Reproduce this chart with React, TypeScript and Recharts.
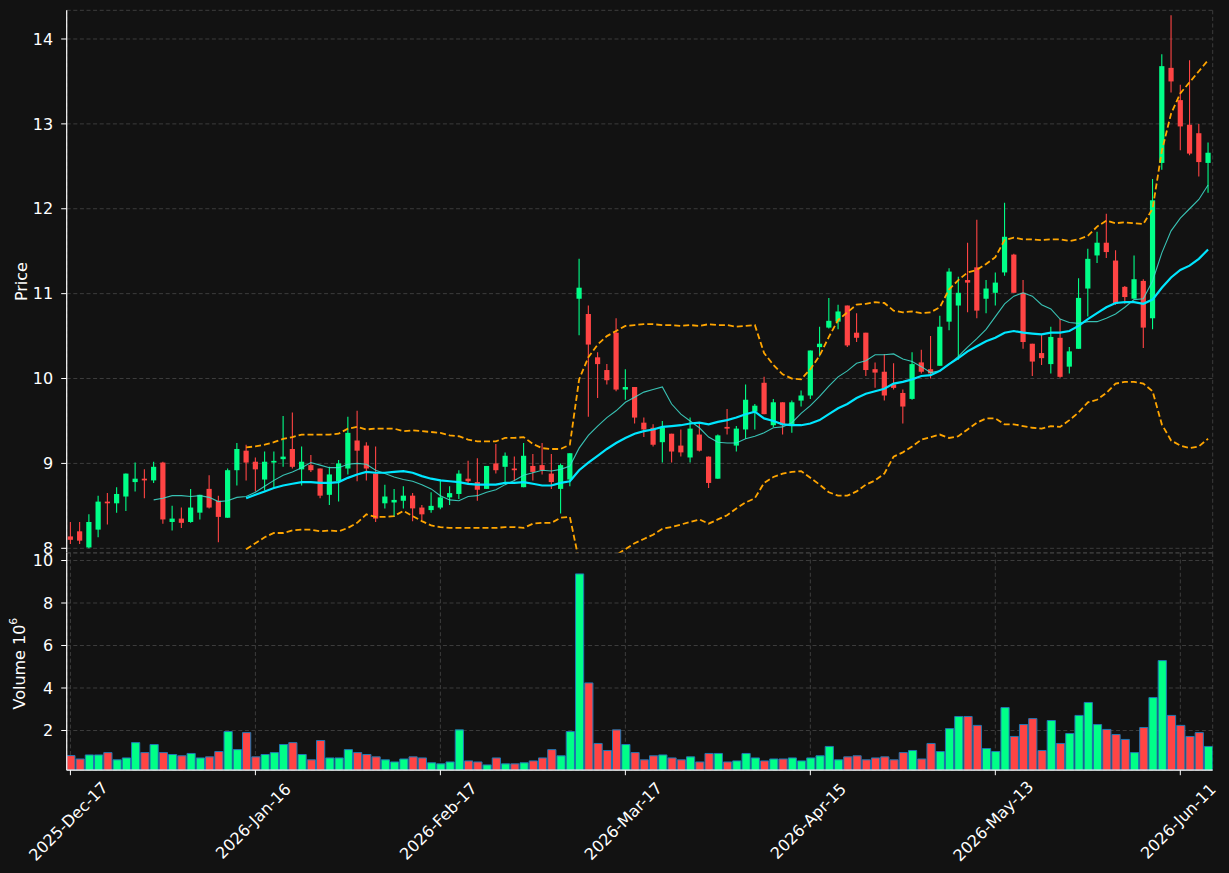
import React from "react";
import {
  ComposedChart,
  Bar,
  Line,
  XAxis,
  YAxis,
  CartesianGrid,
  Cell,
} from "recharts";

// x ticks (trading-day index) and their labels
const tickIndex = [0, 20, 40, 60, 80, 100, 120];
const tickLabels = [
  "2025-Dec-17",
  "2026-Jan-16",
  "2026-Feb-17",
  "2026-Mar-17",
  "2026-Apr-15",
  "2026-May-13",
  "2026-Jun-11",
];
const priceTicks = [8, 9, 10, 11, 12, 13, 14];
const volumeTicks = [2, 4, 6, 8, 10];

const opens = [
  8.14, 8.2, 8.01, 8.22, 8.55, 8.53, 8.61, 8.78, 8.82, 8.8,
  9.01, 8.31, 8.35, 8.31, 8.42, 8.7, 8.56, 8.36, 8.92, 9.15,
  9.02, 8.81, 9.01, 9.05, 9.17, 8.93, 8.98, 8.94, 8.63, 8.79,
  8.94, 9.27, 9.21, 8.88, 8.53, 8.54, 8.56, 8.62, 8.48, 8.45,
  8.48, 8.6, 8.64, 8.82, 8.78, 8.7, 9.0, 8.96, 8.94, 8.72,
  8.97, 8.98, 8.88, 8.7, 8.81, 10.94, 10.76, 10.25, 10.1, 10.54,
  9.87, 9.9, 9.48, 9.42, 9.25, 9.35, 9.21, 9.07, 9.34, 9.08,
  8.82, 9.43, 9.21, 9.4, 9.61, 9.95, 9.45, 9.72, 9.44, 9.74,
  9.8, 10.37, 10.6, 10.67, 10.86, 10.54, 10.54, 10.11, 10.08, 9.93,
  9.83, 9.76, 10.19, 10.11, 10.15, 10.67, 10.86, 11.16, 11.31, 10.94,
  11.01, 11.25, 11.46, 11.01, 10.41, 10.3, 10.17, 10.48, 10.14, 10.35,
  11.06, 11.45, 11.6, 11.39, 11.08, 10.94, 11.15, 10.71, 12.54, 13.66,
  13.28, 12.99, 12.89, 12.54,
];
const highs = [
  8.31, 8.31, 8.4, 8.62, 8.65, 8.72, 8.88, 9.01, 8.93, 9.02,
  9.02, 8.5, 8.48, 8.7, 8.63, 8.86, 8.62, 8.94, 9.24, 9.22,
  9.07, 9.14, 9.14, 9.56, 9.6, 9.2, 9.1, 8.94, 8.96, 9.04,
  9.55, 9.62, 9.25, 9.2, 8.75, 8.7, 8.73, 8.65, 8.51, 8.66,
  8.81, 8.73, 8.92, 9.03, 9.06, 8.97, 9.23, 9.13, 9.08, 9.24,
  9.11, 9.24, 9.11, 9.0, 9.12, 11.41, 10.86, 10.31, 10.17, 10.71,
  10.11, 9.9, 9.54, 9.46, 9.5, 9.35, 9.4, 9.54, 9.47, 9.08,
  9.34, 9.64, 9.44, 9.93, 9.7, 10.02, 9.76, 9.72, 9.74, 9.86,
  10.33, 10.61, 10.95, 10.87, 10.86, 10.77, 10.54, 10.19, 10.29, 10.18,
  9.87, 10.31, 10.34, 10.5, 10.74, 11.3, 11.2, 11.6, 11.87, 11.16,
  11.25, 12.07, 11.47, 11.16, 10.41, 10.52, 10.61, 10.7, 10.37, 11.18,
  11.53, 11.73, 11.94, 11.51, 11.09, 11.45, 11.17, 12.35, 13.82, 14.28,
  13.46, 13.75, 13.0, 12.78,
];
const lows = [
  8.05, 8.05, 8.0, 8.13, 8.28, 8.42, 8.44, 8.67, 8.59, 8.77,
  8.29, 8.21, 8.24, 8.3, 8.34, 8.47, 8.07, 8.36, 8.74, 8.8,
  8.67, 8.68, 8.72, 8.96, 8.94, 8.74, 8.9, 8.59, 8.51, 8.55,
  8.87, 8.79, 8.8, 8.31, 8.47, 8.37, 8.47, 8.32, 8.33, 8.42,
  8.46, 8.51, 8.58, 8.75, 8.56, 8.7, 8.88, 8.78, 8.79, 8.72,
  8.8, 8.87, 8.7, 8.41, 8.73, 10.51, 9.55, 9.77, 9.93, 9.85,
  9.75, 9.47, 9.31, 9.2, 9.01, 9.01, 9.08, 9.01, 9.14, 8.71,
  8.82, 9.34, 9.14, 9.29, 9.4, 9.58, 9.43, 9.34, 9.36, 9.67,
  9.76, 10.26, 10.59, 10.58, 10.37, 10.43, 10.03, 9.89, 9.74, 9.87,
  9.47, 9.75, 10.06, 10.0, 10.15, 10.57, 10.22, 10.78, 10.71, 10.77,
  10.86, 11.21, 11.01, 10.35, 10.03, 10.16, 10.06, 10.01, 10.06, 10.35,
  10.73, 11.36, 11.42, 10.87, 10.88, 10.94, 10.36, 10.58, 12.46, 13.37,
  12.69, 12.63, 12.38, 12.19,
];
const closes = [
  8.1, 8.09, 8.31, 8.55, 8.53, 8.64, 8.88, 8.82, 8.8, 8.96,
  8.34, 8.35, 8.3, 8.48, 8.63, 8.48, 8.37, 8.92, 9.17, 9.01,
  8.93, 9.02, 9.03, 9.08, 8.96, 9.02, 8.92, 8.62, 8.87, 9.0,
  9.36, 9.15, 8.94, 8.35, 8.61, 8.57, 8.62, 8.47, 8.4, 8.5,
  8.6, 8.65, 8.88, 8.79, 8.69, 8.97, 8.92, 9.09, 8.92, 9.09,
  8.9, 8.92, 8.78, 8.98, 9.12, 11.07, 10.4, 10.17, 9.98, 9.87,
  9.9, 9.54, 9.4, 9.22, 9.42, 9.14, 9.13, 9.41, 9.15, 8.77,
  9.33, 9.41, 9.41, 9.75, 9.68, 9.58, 9.72, 9.45, 9.72, 9.8,
  10.33, 10.41, 10.68, 10.79, 10.39, 10.48, 10.1, 10.07, 9.8, 9.89,
  9.67, 10.17, 10.08, 10.06, 10.61, 11.26, 11.01, 11.13, 10.8, 11.06,
  11.13, 11.67, 11.01, 10.43, 10.2, 10.24, 10.49, 10.02, 10.32, 10.95,
  11.41, 11.6, 11.49, 10.88, 10.96, 11.17, 10.6, 12.1, 13.68, 13.5,
  12.97, 12.65, 12.55, 12.66,
];
// volume, millions
const volumes = [
  0.82, 0.66, 0.85, 0.85, 0.96, 0.62, 0.71, 1.43, 0.96, 1.34,
  0.96, 0.87, 0.81, 0.92, 0.71, 0.76, 1.01, 1.95, 1.1, 1.9,
  0.76, 0.87, 0.96, 1.34, 1.43, 0.87, 0.62, 1.53, 0.71, 0.71,
  1.1, 0.96, 0.87, 0.76, 0.62, 0.52, 0.66, 0.76, 0.71, 0.48,
  0.43, 0.52, 2.03, 0.57, 0.52, 0.38, 0.71, 0.43, 0.43, 0.48,
  0.57, 0.71, 1.1, 0.81, 1.95, 9.37, 4.24, 1.39, 1.06, 2.03,
  1.34, 0.96, 0.62, 0.81, 0.85, 0.71, 0.62, 0.76, 0.52, 0.92,
  0.92, 0.52, 0.57, 0.92, 0.71, 0.57, 0.66, 0.66, 0.71, 0.57,
  0.71, 0.81, 1.25, 0.62, 0.76, 0.81, 0.62, 0.71, 0.76, 0.62,
  0.96, 1.06, 0.66, 1.39, 1.01, 2.09, 2.66, 2.66, 2.24, 1.15,
  1.01, 3.08, 1.72, 2.28, 2.56, 1.06, 2.47, 1.39, 1.86, 2.71,
  3.32, 2.28, 2.05, 1.81, 1.58, 0.96, 2.14, 3.55, 5.29, 2.71,
  2.24, 1.72, 1.9, 1.25,
];

// overlay lines as they appear on the chart; ma10 starts at day 9, the rest at day 19
const ma10 = [
  8.57, 8.59, 8.62, 8.62, 8.61, 8.62, 8.6, 8.55, 8.56, 8.6,
  8.61, 8.66, 8.73, 8.8, 8.86, 8.9, 8.95, 9.01, 8.98, 8.95,
  8.95, 8.99, 9.0, 8.99, 8.92, 8.88, 8.84, 8.81, 8.79, 8.75,
  8.7, 8.62, 8.57, 8.56, 8.61, 8.62, 8.66, 8.69, 8.75, 8.8,
  8.86, 8.89, 8.92, 8.91, 8.93, 8.97, 9.18, 9.33, 9.44, 9.54,
  9.62, 9.72, 9.78, 9.84, 9.87, 9.9, 9.7, 9.58, 9.5, 9.42,
  9.31, 9.25, 9.24, 9.24, 9.29, 9.32, 9.36, 9.42, 9.43, 9.48,
  9.59, 9.68, 9.79, 9.91, 10.02, 10.09, 10.18, 10.21, 10.28, 10.28,
  10.29, 10.23, 10.2, 10.14, 10.07, 10.09, 10.17, 10.26, 10.37, 10.47,
  10.58, 10.73, 10.88, 10.97, 11.01, 10.97, 10.87, 10.82, 10.7, 10.66,
  10.65, 10.67, 10.67, 10.71, 10.76, 10.84, 10.93, 10.94, 11.15, 11.48,
  11.74, 11.89, 12.0, 12.11, 12.28,
];
const ma20 = [
  8.59, 8.63, 8.67, 8.71, 8.74, 8.76, 8.78, 8.78, 8.77, 8.77,
  8.78, 8.83, 8.87, 8.9, 8.89, 8.89, 8.9, 8.91, 8.89, 8.85,
  8.82, 8.8, 8.79, 8.78, 8.76, 8.75, 8.75, 8.75, 8.77, 8.77,
  8.78, 8.76, 8.74, 8.74, 8.77, 8.79, 8.92, 9.01, 9.09, 9.17,
  9.24, 9.3, 9.35, 9.38, 9.4, 9.43, 9.44, 9.45, 9.47, 9.48,
  9.46, 9.49, 9.51, 9.54, 9.58, 9.61, 9.53, 9.5, 9.46, 9.45,
  9.45, 9.47, 9.51, 9.58, 9.65, 9.7, 9.77, 9.82, 9.85, 9.88,
  9.94, 9.96, 9.99, 10.03, 10.04, 10.09, 10.17, 10.24, 10.32, 10.38,
  10.44, 10.48, 10.54, 10.56, 10.54, 10.53, 10.52, 10.54, 10.54, 10.56,
  10.62, 10.7, 10.77, 10.84, 10.89, 10.9, 10.9, 10.88, 10.93, 11.07,
  11.19, 11.28, 11.33, 11.41, 11.52,
];
const bbUpper = [
  9.19, 9.2, 9.22, 9.25, 9.29, 9.31, 9.34, 9.34, 9.34, 9.34,
  9.35, 9.41, 9.43, 9.4, 9.41, 9.41, 9.41, 9.38, 9.39, 9.38,
  9.37, 9.36, 9.33, 9.32, 9.28, 9.26, 9.26, 9.26, 9.3, 9.3,
  9.31, 9.23, 9.18, 9.17, 9.17, 9.22, 9.99, 10.25, 10.4, 10.5,
  10.56, 10.62, 10.63, 10.64, 10.64, 10.63, 10.63, 10.62, 10.63, 10.62,
  10.64, 10.63, 10.63, 10.61, 10.62, 10.63, 10.3, 10.16, 10.05, 10.0,
  9.99, 10.11, 10.27, 10.49, 10.69, 10.78, 10.87, 10.88, 10.9, 10.89,
  10.8, 10.78, 10.79, 10.77, 10.78, 10.84, 11.05, 11.16, 11.25, 11.28,
  11.35, 11.43, 11.63, 11.66, 11.64, 11.64, 11.63, 11.64, 11.64, 11.62,
  11.64, 11.68, 11.79, 11.86, 11.83, 11.84, 11.83, 11.82, 12.0, 12.68,
  13.12, 13.36, 13.49, 13.62, 13.75,
];
const bbLower = [
  7.99, 8.06, 8.13, 8.18, 8.18, 8.21, 8.22, 8.22, 8.2, 8.21,
  8.2, 8.24, 8.3, 8.4, 8.37, 8.37, 8.38, 8.44, 8.38, 8.32,
  8.27, 8.25, 8.24, 8.24, 8.24, 8.24, 8.24, 8.24, 8.25, 8.25,
  8.24, 8.29, 8.3, 8.3, 8.36, 8.37, 7.85, 7.77, 7.78, 7.85,
  7.92, 7.99, 8.06, 8.11, 8.16, 8.23, 8.25, 8.28, 8.31, 8.34,
  8.29, 8.34, 8.39, 8.47, 8.54, 8.59, 8.77, 8.84, 8.88, 8.9,
  8.91, 8.83, 8.75, 8.66, 8.62, 8.62, 8.67, 8.75, 8.8, 8.88,
  9.08, 9.13, 9.2, 9.28, 9.31, 9.34, 9.3, 9.32, 9.4, 9.48,
  9.53, 9.53, 9.46, 9.46, 9.44, 9.42, 9.41, 9.44, 9.43, 9.51,
  9.6, 9.72, 9.75, 9.83, 9.94, 9.96, 9.96, 9.94, 9.85, 9.46,
  9.27, 9.21, 9.18, 9.2, 9.29,
];

const rows = closes.map((close, i) => ({
  i,
  open: opens[i],
  high: highs[i],
  low: lows[i],
  close,
  range: [lows[i], highs[i]],
  volume: volumes[i],
  ma10: i >= 9 ? ma10[i - 9] : null,
  ma20: i >= 19 ? ma20[i - 19] : null,
  bbUpper: i >= 19 ? bbUpper[i - 19] : null,
  bbLower: i >= 19 ? bbLower[i - 19] : null,
}));

const W = 1229;
const H = 873;
const LEFT = 66.7;
const RIGHT = 16.3;
const TOP = 10.3;
const SPLIT = 552.8;
const VOL_BOTTOM = 770;
const X_DOMAIN: [number, number] = [-0.4, 123.5];

const BG = "#121212";
const UP = "#00ff88";
const DOWN = "#ff4444";
const GRID = "#424242";
const FONT = "DejaVu Sans";
const spine = { stroke: "#ffffff", strokeWidth: 1.2 };
const tickText = { fill: "#ffffff", fontSize: 16, fontFamily: FONT };

function Candle(props: any) {
  const { x, y, width, height, payload } = props;
  if (x == null || !payload) return null;
  const { open, close, high, low } = payload;
  const cx = x + width / 2;
  const k = high === low ? 0 : height / (high - low);
  const yo = y + (high - open) * k;
  const yc = y + (high - close) * k;
  const color = close >= open ? UP : DOWN;
  return (
    <g>
      <line x1={cx} x2={cx} y1={y} y2={y + height} stroke={color} strokeWidth={1.1} />
      <rect
        x={x}
        y={Math.min(yo, yc)}
        width={width}
        height={Math.max(Math.abs(yc - yo), 1)}
        fill={color}
      />
    </g>
  );
}

function DateTick(props: any) {
  const { x, y, payload } = props;
  const label = tickLabels[tickIndex.indexOf(payload.value)];
  return (
    <g transform={`translate(${x - 2},${y + 44})`}>
      <text
        transform="rotate(-45)"
        textAnchor="middle"
        dominantBaseline="central"
        {...tickText}
      >
        {label}
      </text>
    </g>
  );
}

const priceLabel = (props: any) => {
  const { x, y, height } = props.viewBox;
  const cx = x + 21.5;
  const cy = y + height / 2;
  return (
    <text
      x={cx}
      y={cy}
      transform={`rotate(-90 ${cx} ${cy})`}
      textAnchor="middle"
      dominantBaseline="central"
      {...tickText}
    >
      Price
    </text>
  );
};

const volumeLabel = (props: any) => {
  const { x, y, height } = props.viewBox;
  const cx = x + 19.5;
  const cy = y + height / 2 + 2;
  return (
    <text
      x={cx}
      y={cy}
      transform={`rotate(-90 ${cx} ${cy})`}
      textAnchor="middle"
      dominantBaseline="central"
      {...tickText}
    >
      Volume 10
      <tspan dy={-7} fontSize={11}>
        6
      </tspan>
    </text>
  );
};

export default function App() {
  return (
    <div
      style={{
        position: "absolute",
        left: 0,
        top: 0,
        width: W,
        height: H,
        background: BG,
        overflow: "hidden",
      }}
    >
      {/* let tick labels at the panel seam ("8" and "10") spill over, as in the original */}
      <style>{`.recharts-surface { overflow: visible; }`}</style>
      <div style={{ position: "absolute", left: 0, top: 0 }}>
        <ComposedChart
          width={W}
          height={SPLIT}
          data={rows}
          margin={{ top: TOP, right: RIGHT, bottom: 0, left: 0 }}
        >
          <CartesianGrid stroke={GRID} strokeDasharray="4 2.6" strokeWidth={0.9} />
          <XAxis
            dataKey="i"
            type="number"
            domain={X_DOMAIN}
            ticks={tickIndex}
            allowDataOverflow
            height={0}
            tick={false}
            tickLine={false}
            axisLine={spine}
          />
          <XAxis
            xAxisId="top"
            orientation="top"
            dataKey="i"
            type="number"
            domain={X_DOMAIN}
            height={0}
            tick={false}
            tickLine={false}
            axisLine={spine}
          />
          <YAxis
            type="number"
            domain={[7.947, 14.338]}
            ticks={priceTicks}
            interval={0}
            allowDataOverflow
            width={LEFT}
            tick={tickText}
            tickLine={{ stroke: "#ffffff" }}
            tickSize={5.5}
            tickMargin={8}
            axisLine={spine}
            label={priceLabel}
          />
          <YAxis
            yAxisId="right"
            orientation="right"
            width={0}
            tick={false}
            tickLine={false}
            axisLine={spine}
          />
          <Bar dataKey="range" barSize={5.2} shape={Candle} isAnimationActive={false} />
          <Line
            dataKey="bbUpper"
            stroke="#ffa500"
            strokeWidth={1.8}
            strokeDasharray="6 3"
            dot={false}
            isAnimationActive={false}
          />
          <Line
            dataKey="bbLower"
            stroke="#ffa500"
            strokeWidth={1.8}
            strokeDasharray="6 3"
            dot={false}
            isAnimationActive={false}
          />
          <Line
            dataKey="ma10"
            stroke="#40e0d0"
            strokeOpacity={0.85}
            strokeWidth={1.1}
            dot={false}
            isAnimationActive={false}
          />
          <Line
            dataKey="ma20"
            stroke="#00e6ff"
            strokeWidth={2.2}
            dot={false}
            isAnimationActive={false}
          />
        </ComposedChart>
      </div>

      <div style={{ position: "absolute", left: 0, top: SPLIT }}>
        <ComposedChart
          width={W}
          height={H - SPLIT}
          data={rows}
          margin={{ top: 0, right: RIGHT, bottom: 0, left: 0 }}
        >
          <CartesianGrid stroke={GRID} strokeDasharray="4 2.6" strokeWidth={0.9} />
          <XAxis
            dataKey="i"
            type="number"
            domain={X_DOMAIN}
            ticks={tickIndex}
            allowDataOverflow
            height={H - VOL_BOTTOM}
            tick={<DateTick />}
            tickLine={{ stroke: "#ffffff" }}
            tickSize={5}
            axisLine={spine}
            interval={0}
          />
          <XAxis
            xAxisId="top"
            orientation="top"
            dataKey="i"
            type="number"
            domain={X_DOMAIN}
            height={0}
            tick={false}
            tickLine={false}
            axisLine={spine}
          />
          <YAxis
            type="number"
            domain={[0.132, 10.353]}
            ticks={volumeTicks}
            interval={0}
            allowDataOverflow
            width={LEFT}
            tick={tickText}
            tickLine={{ stroke: "#ffffff" }}
            tickSize={5.5}
            tickMargin={8}
            axisLine={spine}
            label={volumeLabel}
          />
          <YAxis
            yAxisId="right"
            orientation="right"
            width={0}
            tick={false}
            tickLine={false}
            axisLine={spine}
          />
          <Bar
            dataKey="volume"
            barSize={8.2}
            stroke="#1f77b4"
            strokeWidth={1}
            isAnimationActive={false}
          >
            {rows.map((r) => (
              <Cell key={r.i} fill={r.close >= r.open ? UP : DOWN} />
            ))}
          </Bar>
        </ComposedChart>
      </div>
    </div>
  );
}
